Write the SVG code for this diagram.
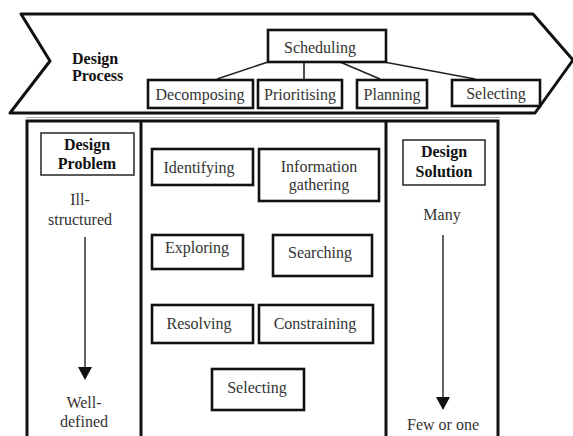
<svg xmlns="http://www.w3.org/2000/svg" width="573" height="436" viewBox="0 0 573 436">
<style>
.bx{fill:#fff;stroke:#111;stroke-width:2.6}
.tb{fill:#fff;stroke:#333;stroke-width:1.6}
.t{font-family:"Liberation Serif","DejaVu Serif",serif;font-size:16px;fill:#333;text-anchor:middle}
.b{font-family:"Liberation Serif","DejaVu Serif",serif;font-size:16px;font-weight:bold;fill:#111}
.c{text-anchor:middle}
.ln{stroke:#222;stroke-width:1.6;fill:none}
.ar{stroke:#666;stroke-width:2;fill:none}
</style>
<rect width="573" height="436" fill="#fff"/>
<g id="process">
<polygon points="21,14 533,14 573,60 535,113 10,113 50,61" fill="#fff" stroke="#111" stroke-width="3" stroke-linejoin="round"/>
<text class="b" x="72" y="64">Design</text>
<text class="b" x="72" y="81">Process</text>
</g>
<line x1="26" y1="117.5" x2="500" y2="117.5" stroke="#aaa" stroke-width="1"/>
<g id="frame">
<rect x="27" y="121" width="471" height="330" fill="none" stroke="#111" stroke-width="3"/>
<line x1="141" y1="121" x2="141" y2="440" stroke="#111" stroke-width="3"/>
<line x1="386" y1="121" x2="386" y2="440" stroke="#111" stroke-width="3"/>
</g>
<g id="connectors">
<line class="ln" x1="268" y1="62" x2="217" y2="79"/>
<line class="ln" x1="304" y1="62" x2="304" y2="79"/>
<line class="ln" x1="340" y1="62" x2="380" y2="79"/>
<line class="ln" x1="384" y1="62" x2="475" y2="79"/>
<line class="ar" x1="85" y1="237" x2="85" y2="368"/>
<polygon points="78,367 92,367 85,380" fill="#111"/>
<line class="ar" x1="443" y1="235" x2="443" y2="398"/>
<polygon points="436,397 450,397 443,410" fill="#111"/>
</g>
<g id="scheduling"><rect class="bx" x="268" y="30" width="118" height="32"/><text class="t" x="320" y="53">Scheduling</text></g>
<g id="decomposing"><rect class="bx" x="148" y="80" width="105" height="28"/><text class="t" x="200" y="100">Decomposing</text></g>
<g id="prioritising"><rect class="bx" x="258" y="80" width="84" height="28"/><text class="t" x="300" y="100">Prioritising</text></g>
<g id="planning"><rect class="bx" x="357" y="80" width="70" height="28"/><text class="t" x="392" y="100">Planning</text></g>
<g id="selecting-top"><rect class="bx" x="452" y="80" width="88" height="26"/><text class="t" x="496" y="99">Selecting</text></g>
<g id="design-problem">
<rect class="tb" x="41" y="133" width="93" height="42"/>
<text class="b c" x="87" y="150">Design</text>
<text class="b c" x="87" y="169">Problem</text>
<text class="t" x="80" y="205">Ill-</text>
<text class="t" x="80" y="225">structured</text>
<text class="t" x="84" y="408">Well-</text>
<text class="t" x="84" y="427">defined</text>
</g>
<g id="design-solution">
<rect class="tb" x="403" y="140" width="82" height="45"/>
<text class="b c" x="444" y="157">Design</text>
<text class="b c" x="444" y="177">Solution</text>
<text class="t" x="442" y="220">Many</text>
<text class="t" x="443" y="430">Few or one</text>
</g>
<g id="identifying"><rect class="bx" x="152" y="149" width="101" height="36"/><text class="t" x="199" y="173">Identifying</text></g>
<g id="information"><rect class="bx" x="259" y="149" width="120" height="52"/><text class="t" x="319" y="172">Information</text><text class="t" x="319" y="190">gathering</text></g>
<g id="exploring"><rect class="bx" x="152" y="235" width="91" height="34"/><text class="t" x="197" y="253">Exploring</text></g>
<g id="searching"><rect class="bx" x="273" y="235" width="99" height="41"/><text class="t" x="320" y="258">Searching</text></g>
<g id="resolving"><rect class="bx" x="152" y="305" width="101" height="38"/><text class="t" x="199" y="329">Resolving</text></g>
<g id="constraining"><rect class="bx" x="259" y="305" width="114" height="38"/><text class="t" x="315" y="329">Constraining</text></g>
<g id="selecting"><rect class="bx" x="212" y="369" width="92" height="41"/><text class="t" x="257" y="393">Selecting</text></g>
</svg>
